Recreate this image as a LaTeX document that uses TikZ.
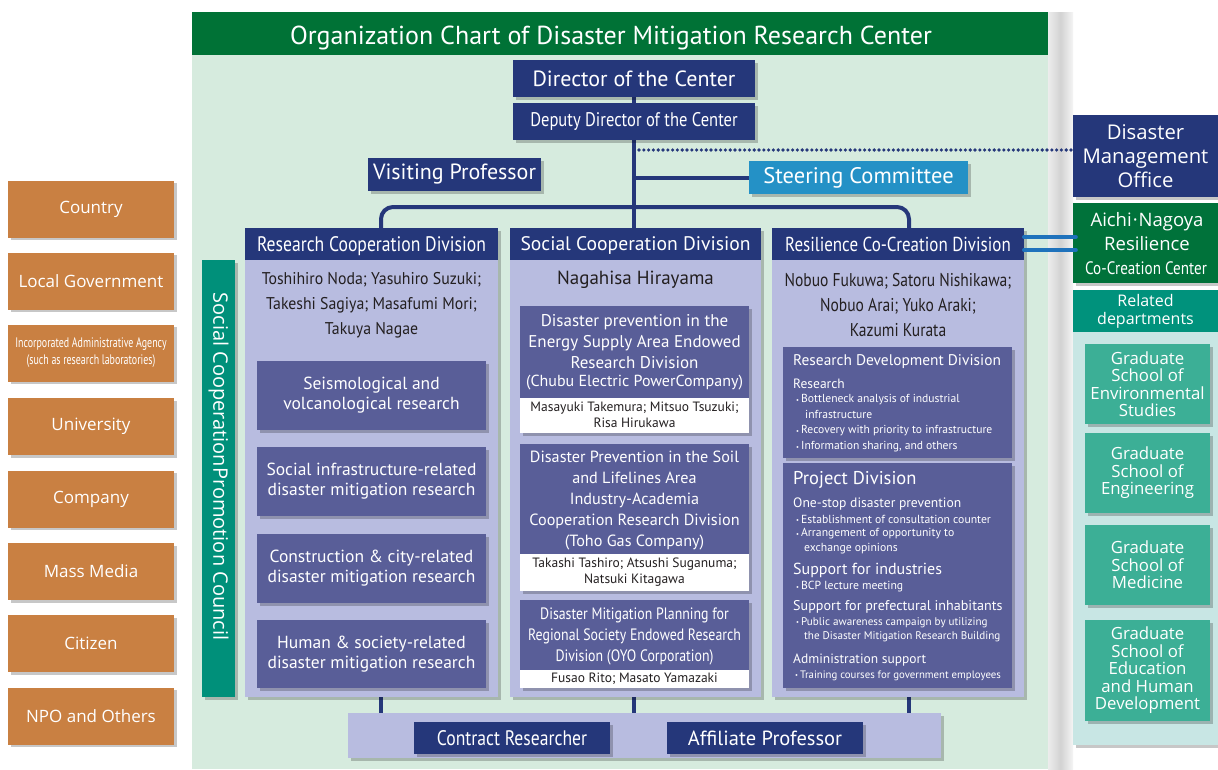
\documentclass[tikz,border=0pt]{standalone}
\usepackage{fontspec}
\setmainfont{PT Sans}
\newfontfamily\mer{Open Sans}
\newfontfamily\myn[FakeStretch=0.93]{PT Sans}
\newfontfamily\myc[FakeStretch=0.84]{PT Sans}
\newfontfamily\myx[FakeStretch=0.72]{PT Sans}
\usetikzlibrary{shadows}
\definecolor{panel}{HTML}{D6EBDE}
\definecolor{ttlgreen}{HTML}{007236}
\definecolor{navy}{HTML}{25377A}
\definecolor{steer}{HTML}{2491C6}
\definecolor{lav}{HTML}{B8BCE0}
\definecolor{inner}{HTML}{595E98}
\definecolor{orng}{HTML}{C98042}
\definecolor{council}{HTML}{00907A}
\definecolor{aichi}{HTML}{00723A}
\definecolor{related}{HTML}{00927C}
\definecolor{grad}{HTML}{3CAF96}
\definecolor{lteal}{HTML}{C8E6E4}
\definecolor{dblue}{HTML}{1F72BC}
\definecolor{txt}{HTML}{231F20}
\newcommand\fs[2]{\fontsize{#1}{#2}\selectfont}
\newcommand\bul{\raisebox{0.15ex}{\fontsize{6.5}{7}\selectfont •}\kern2pt}
\pgfdeclarelayer{back}
\pgfdeclarelayer{bg}
\pgfsetlayers{back,bg,main}
\tikzset{
  bx/.style={rectangle, inner sep=0pt, align=center, text=white},
  shd/.style={drop shadow={shadow xshift=2.5pt, shadow yshift=-2.5pt, opacity=0.22, fill=black}},
  lbl/.style={inner sep=0pt, align=center},
  lft/.style={inner sep=0pt, anchor=west, align=left, text=white},
  link/.style={draw=navy, line width=4pt},
  orbox/.style={bx, fill=orng, shd, minimum width=166, minimum height=57, font=\mer\fs{17}{20}},
  resbox/.style={bx, fill=inner, shd, minimum width=229, minimum height=69, font=\fs{17.5}{20}},
  gradbox/.style={bx, fill=grad, shd, minimum width=125, minimum height=80, font=\mer\fs{16.8}{17.5}},
  hdr/.style={bx, fill=navy, minimum height=32, text depth=0pt},
  namestyle/.style={lbl, text=txt},
  wtxt/.style={lbl, text=txt, font=\fs{13.5}{16}},
}
\begin{document}
\begin{tikzpicture}[x=1pt,y=-1pt]
\useasboundingbox (0,0) rectangle (1218,769);
\begin{pgfonlayer}{back}
\fill[white] (0,0) rectangle (1218,769);
\fill[panel] (192,12) rectangle (1048,769);
\shade[left color=gray!15, right color=gray!8, middle color=gray!35] (1048,12) rectangle (1073,769);
\end{pgfonlayer}

% title
\node[bx, fill=ttlgreen, minimum width=856, minimum height=43] (titlebar) at (620,33.5) {};
\node[lbl, text=white, text depth=0pt, font=\fs{26}{30}] (title) at (611,35) {Organization Chart of Disaster Mitigation Research Center};

% top boxes
\node[bx, fill=navy, shd, minimum width=242, minimum height=37, font=\fs{22}{24}] (director) at (634,78.5) {Director of the Center};
\node[bx, fill=navy, shd, minimum width=242, minimum height=37, font=\myc\fs{19.7}{22}] (deputy) at (634,121.5) {Deputy Director of the Center};
\node[bx, fill=navy, shd, minimum width=173, minimum height=33, font=\fs{22}{24}] (visiting) at (454.5,174.5) {Visiting Professor};
\node[bx, fill=steer, shd, minimum width=219, minimum height=33, font=\fs{22.5}{24}] (steer) at (858.5,177.5) {Steering Committee};

% columns
\node[bx, fill=lav, shd, minimum width=253, minimum height=469] (rcdb) at (371.5,462.5) {};
\node[bx, fill=lav, shd, minimum width=251, minimum height=469] (scdb) at (635.5,462.5) {};
\node[bx, fill=lav, shd, minimum width=252, minimum height=469] (rccb) at (898,462.5) {};
\node[hdr, minimum width=253, font=\myc\fs{21}{23}] (rcdh) at (371.5,244) {Research Cooperation Division};
\node[hdr, minimum width=251, font=\fs{19.6}{23}] (scdh) at (635.5,244) {Social Cooperation Division};
\node[hdr, minimum width=252, font=\myc\fs{20.2}{23}] (rcch) at (898,244) {Resilience Co-Creation Division};

% left column content
\node[namestyle, font=\myn\fs{17}{25}] (rcdn) at (371.5,305) {Toshihiro Noda; Yasuhiro Suzuki;\\Takeshi Sagiya; Masafumi Mori;\\Takuya Nagae};
\node[resbox] (r1) at (371.5,395.5) {Seismological and\\volcanological research};
\node[resbox] (r2) at (371.5,481.5) {Social infrastructure-related\\disaster mitigation research};
\node[resbox] (r3) at (371.5,568.5) {Construction \& city-related\\disaster mitigation research};
\node[resbox, minimum height=68] (r4) at (371.5,654) {Human \& society-related\\disaster mitigation research};

% middle column content
\node[namestyle, font=\fs{19}{22}] (scdn) at (635.5,280) {Nagahisa Hirayama};
\node[bx, fill=white, shd, minimum width=229, minimum height=127] (m1) at (634.5,369.5) {};
\node[bx, fill=inner, minimum width=229, minimum height=92] (m1t) at (634.5,352) {};
\node[lbl, text=white, font=\fs{17}{20.8}] (m1a) at (634.5,341.5) {Disaster prevention in the\\Energy Supply Area Endowed\\Research Division};
\node[lbl, text=white, font=\fs{16}{18}] (m1b) at (634.5,383) {(Chubu Electric PowerCompany)};
\node[wtxt] (m1c) at (634.5,415) {Masayuki Takemura; Mitsuo Tsuzuki;\\Risa Hirukawa};

\node[bx, fill=white, shd, minimum width=229, minimum height=147] (m2) at (634.5,517.5) {};
\node[bx, fill=inner, minimum width=229, minimum height=110] (m2t) at (634.5,499) {};
\node[lbl, text=white, font=\fs{16.2}{21}] (m2a) at (634.5,501) {Disaster Prevention in the Soil\\and Lifelines Area\\Industry-Academia\\Cooperation Research Division\\(Toho Gas Company)};
\node[wtxt] (m2c) at (634.5,572.5) {Takashi Tashiro; Atsushi Suganuma;\\Natsuki Kitagawa};

\node[bx, fill=white, shd, minimum width=229, minimum height=88] (m3) at (634.5,644) {};
\node[bx, fill=inner, minimum width=229, minimum height=70] (m3t) at (634.5,635) {};
\node[lbl, text=white, font=\myc\fs{16.5}{21}] (m3a) at (634.5,636) {Disaster Mitigation Planning for\\Regional Society Endowed Research\\Division (OYO Corporation)};
\node[wtxt] (m3c) at (634.5,679) {Fusao Rito; Masato Yamazaki};

% right column content
\node[namestyle, font=\myc\fs{18.5}{25}] (rccn) at (898,305) {Nobuo Fukuwa; Satoru Nishikawa;\\Nobuo Arai; Yuko Araki;\\Kazumi Kurata};
\node[bx, fill=inner, shd, minimum width=229, minimum height=111] (rd) at (897.5,402.5) {};
\node[lft, font=\fs{15.4}{18}] (rd1) at (793,362) {Research Development Division};
\node[lft, font=\fs{13.5}{15}] (rd2) at (793,384) {Research};
\node[lft, font=\fs{11.6}{14}] (rd3) at (796,400) {\bul Bottleneck analysis of industrial};
\node[lft, font=\fs{11.6}{14}] (rd4) at (805,414) {infrastructure};
\node[lft, font=\fs{11.6}{14}] (rd5) at (796,431) {\bul Recovery with priority to infrastructure};
\node[lft, font=\fs{11.6}{14}] (rd6) at (796,447) {\bul Information sharing, and others};

\node[bx, fill=inner, shd, minimum width=229, minimum height=225] (pd) at (897.5,575.5) {};
\node[lft, font=\fs{18.5}{20}] (pd1) at (793,480) {Project Division};
\node[lft, font=\fs{13.6}{16}] (pd2) at (793,504) {One-stop disaster prevention};
\node[lft, font=\fs{11.7}{14}] (pd3) at (796,519) {\bul Establishment of consultation counter};
\node[lft, font=\fs{11.7}{14}] (pd4) at (796,534) {\bul Arrangement of opportunity to};
\node[lft, font=\fs{11.7}{14}] (pd5) at (804,549) {exchange opinions};
\node[lft, font=\fs{16}{18}] (pd6) at (793,570) {Support for industries};
\node[lft, font=\fs{11.7}{14}] (pd7) at (796,587) {\bul BCP lecture meeting};
\node[lft, font=\fs{14.1}{17}] (pd8) at (793,607) {Support for prefectural inhabitants};
\node[lft, font=\fs{11.1}{14}] (pd9) at (796,623) {\bul Public awareness campaign by utilizing};
\node[lft, font=\fs{11.1}{14}] (pd10) at (804,637) {the Disaster Mitigation Research Building};
\node[lft, font=\fs{13.5}{16}] (pd11) at (793,660) {Administration support};
\node[lft, font=\fs{10.8}{14}] (pd12) at (795,676) {\bul Training courses for government employees};

% council
\node[bx, fill=council, shd, minimum width=33, minimum height=437] (council) at (218.5,478.5) {};
\node[lbl, text=white, rotate=-90, font=\mer\fs{20}{22}] (counciltext) at (218.5,466.5) {Social CooperationPromotion Council};

% left boxes
\node[orbox] (country) at (91,209) {Country};
\node[orbox] (localgov) at (91,281) {Local Government};
\node[orbox, font=\myx\fs{13.8}{17}] (agency) at (91,353) {Incorporated Administrative Agency\\(such as research laboratories)};
\node[orbox] (univ) at (91,426.5) {University};
\node[orbox] (company) at (91,499) {Company};
\node[orbox] (media) at (91,571.5) {Mass Media};
\node[orbox] (citizen) at (91,643.5) {Citizen};
\node[orbox] (npo) at (91,716) {NPO and Others};

% right boxes
\node[bx, fill=navy, shd, minimum width=145, minimum height=82, font=\mer\fs{20.3}{24}] (dmo) at (1145.5,156) {Disaster\\Management\\Office};
\node[bx, fill=aichi, shd, minimum width=145, minimum height=80] (aichi) at (1145.5,243) {};
\node[lbl, text=white, font=\mer\fs{18.5}{24}] (aichi1) at (1147,232) {Aichi\kern1pt·\kern1pt Nagoya\\Resilience};
\node[lbl, text=white, font=\myc\fs{18}{20}] (aichi2) at (1146,268) {Co-Creation Center};
\node[bx, fill=related, minimum width=145, minimum height=42, font=\mer\fs{16}{18}] (related) at (1145.5,311) {Related\\departments};
\node[bx, fill=lteal, shd, minimum width=145, minimum height=413] (gpanel) at (1145.5,538.5) {};
\node[gradbox] (g1) at (1147.5,384) {Graduate\\School of\\Environmental\\Studies};
\node[gradbox] (g2) at (1147.5,473) {Graduate\\School of\\Engineering};
\node[gradbox] (g3) at (1147.5,565) {Graduate\\School of\\Medicine};
\node[gradbox, minimum height=101] (g4) at (1147.5,670.5) {Graduate\\School of\\Education\\and Human\\Development};

% bottom
\node[bx, fill=lav, shd, minimum width=593, minimum height=45] (bottom) at (644.5,735.5) {};
\node[bx, fill=navy, shd, minimum width=196, minimum height=32, font=\myc\fs{21}{23}] (contract) at (512,738) {Contract Researcher};
\node[bx, fill=navy, shd, minimum width=196, minimum height=32, font=\fs{20.5}{23}] (affiliate) at (765,738) {Affiliate Professor};

% connectors
\coordinate (busL) at (381,207);
\coordinate (busR) at (909,207);
\coordinate (dotA) at (639,150);
\coordinate (dl1) at (1024,237);
\coordinate (dl2) at (1024,250);
\begin{pgfonlayer}{bg}
\draw[link] (director.south) -- (deputy.north);
\draw[link] (deputy.south) -- (deputy.south |- rcdh.north);
\draw[link] (deputy.south |- steer.west) -- (steer.west);
\draw[link, rounded corners=12pt] (busL |- rcdh.north) -- (busL) -- (busR) -- (busR |- rcch.north);
\draw[navy, line width=3.6pt, line cap=round, dash pattern=on 0pt off 4.8pt] (dotA) -- (dotA -| dmo.west);
\draw[link] (busL |- rcdb.south) -- (busL |- bottom.north);
\draw[link] (deputy.south |- scdb.south) -- (deputy.south |- bottom.north);
\draw[link] (busR |- rccb.south) -- (busR |- bottom.north);
\end{pgfonlayer}
\draw[dblue, line width=4pt, line cap=round] (dl1) -- ([xshift=3pt]dl1 -| aichi.west);
\draw[dblue, line width=4pt, line cap=round] (dl2) -- ([xshift=3pt]dl2 -| aichi.west);
\end{tikzpicture}
\end{document}
